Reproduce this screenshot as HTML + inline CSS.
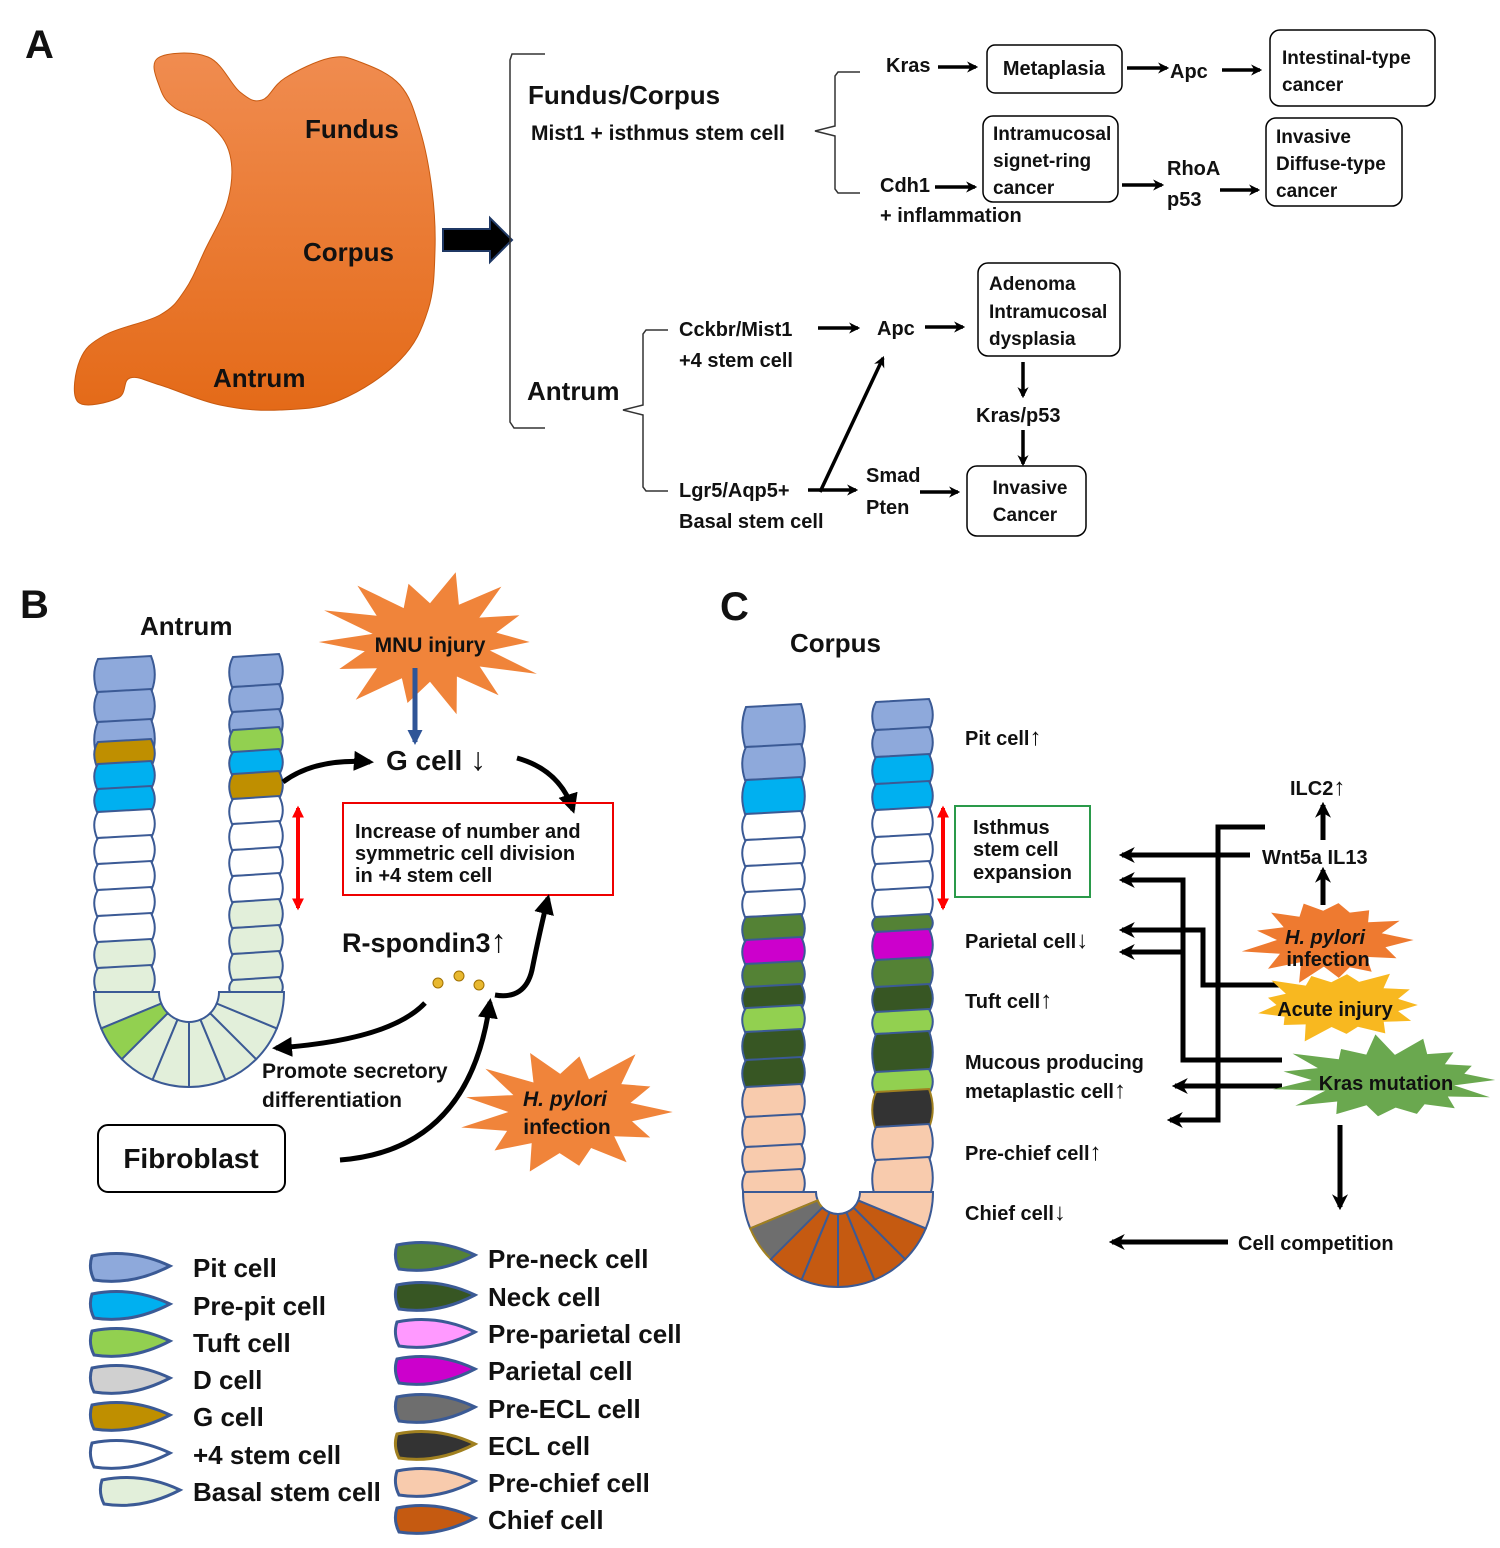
<!DOCTYPE html>
<html><head><meta charset="utf-8"><style>
body{margin:0;background:#fff}
svg{display:block}
text{font-family:"Liberation Sans",sans-serif;font-weight:bold;fill:#111}
</style></head><body>
<svg id="s" width="1500" height="1548" viewBox="0 0 1500 1548" xmlns="http://www.w3.org/2000/svg">
<defs>
<linearGradient id="og" x1="0" y1="0" x2="0" y2="1"><stop offset="0" stop-color="#F08C50"/><stop offset="1" stop-color="#E46A18"/></linearGradient>
<marker id="ah" viewBox="0 0 10 10" refX="8" refY="5" markerWidth="4" markerHeight="4" orient="auto-start-reverse"><path d="M0,0 L10,5 L0,10 z" fill="#000"/></marker>
<marker id="ahs" viewBox="0 0 10 10" refX="8" refY="5" markerWidth="3.2" markerHeight="3.2" orient="auto-start-reverse"><path d="M0,0 L10,5 L0,10 L3,5 z" fill="#000"/></marker>
<marker id="ahr" viewBox="0 0 10 10" refX="8" refY="5" markerWidth="3" markerHeight="3" orient="auto-start-reverse"><path d="M0,0 L10,5 L0,10 z" fill="#f00"/></marker>
<marker id="ahb" viewBox="0 0 10 10" refX="8" refY="5" markerWidth="3" markerHeight="3" orient="auto"><path d="M0,0 L10,5 L0,10 z" fill="#2F5597"/></marker>
</defs>

<!-- PANEL A -->
<text x="25" y="58" font-size="40">A</text>
<path id="stomach" d="" fill="url(#og)" stroke="#c85a10" stroke-width="1"/>
<text x="305" y="138" font-size="26">Fundus</text>
<text x="303" y="261" font-size="26">Corpus</text>
<text x="213" y="387" font-size="26">Antrum</text>
<path d="M443,229 L490,229 L490,218 L512,240 L490,262 L490,251 L443,251 Z" fill="#000" stroke="#1F3864" stroke-width="2"/>
<path d="M545,54 L512,54 L510,60 L510,422 L514,428 L545,428" fill="none" stroke="#333" stroke-width="1.5"/>
<text x="528" y="104" font-size="26" font-weight="normal">Fundus/Corpus</text>
<text x="531" y="140" font-size="21">Mist1 + isthmus stem cell</text>
<path d="M860,72 L838,72 L835,76 L835,126 L815,131 L835,136 L835,189 L838,193 L860,193" fill="none" stroke="#333" stroke-width="1.5"/>
<text x="886" y="72" font-size="20">Kras</text>
<line x1="938" y1="67" x2="976" y2="67" stroke="#000" stroke-width="3.5" marker-end="url(#ahs)"/>
<rect x="987" y="45" width="135" height="48" rx="8" fill="none" stroke="#000" stroke-width="1.5"/>
<text x="1054" y="75" font-size="20" font-weight="normal" text-anchor="middle">Metaplasia</text>
<line x1="1127" y1="68" x2="1167" y2="68" stroke="#000" stroke-width="3.5" marker-end="url(#ahs)"/>
<text x="1170" y="78" font-size="20">Apc</text>
<line x1="1222" y1="70" x2="1260" y2="70" stroke="#000" stroke-width="3.5" marker-end="url(#ahs)"/>
<rect x="1270" y="30" width="165" height="76" rx="10" fill="none" stroke="#000" stroke-width="1.5"/>
<text x="1282" y="64" font-size="19" font-weight="normal">Intestinal-type</text>
<text x="1282" y="91" font-size="19" font-weight="normal">cancer</text>
<text x="880" y="192" font-size="20">Cdh1</text>
<line x1="935" y1="187" x2="975" y2="187" stroke="#000" stroke-width="3.5" marker-end="url(#ahs)"/>
<text x="880" y="222" font-size="20">+ inflammation</text>
<rect x="983" y="116" width="135" height="86" rx="10" fill="none" stroke="#000" stroke-width="1.5"/>
<text x="993" y="140" font-size="19" font-weight="normal">Intramucosal</text>
<text x="993" y="167" font-size="19" font-weight="normal">signet-ring</text>
<text x="993" y="194" font-size="19" font-weight="normal">cancer</text>
<line x1="1122" y1="185" x2="1162" y2="185" stroke="#000" stroke-width="3.5" marker-end="url(#ahs)"/>
<text x="1167" y="175" font-size="20">RhoA</text>
<text x="1167" y="206" font-size="20">p53</text>
<line x1="1220" y1="190" x2="1258" y2="190" stroke="#000" stroke-width="3.5" marker-end="url(#ahs)"/>
<rect x="1266" y="118" width="136" height="88" rx="10" fill="none" stroke="#000" stroke-width="1.5"/>
<text x="1276" y="143" font-size="19" font-weight="normal">Invasive</text>
<text x="1276" y="170" font-size="19" font-weight="normal">Diffuse-type</text>
<text x="1276" y="197" font-size="19" font-weight="normal">cancer</text>

<text x="527" y="400" font-size="26" font-weight="normal">Antrum</text>
<path d="M668,330 L646,330 L643,334 L643,405 L623,410 L643,415 L643,487 L646,491 L668,491" fill="none" stroke="#333" stroke-width="1.5"/>
<text x="679" y="336" font-size="20">Cckbr/Mist1</text>
<text x="679" y="367" font-size="20">+4 stem cell</text>
<line x1="818" y1="328" x2="858" y2="328" stroke="#000" stroke-width="3.5" marker-end="url(#ahs)"/>
<text x="877" y="335" font-size="20">Apc</text>
<line x1="925" y1="327" x2="963" y2="327" stroke="#000" stroke-width="3.5" marker-end="url(#ahs)"/>
<rect x="978" y="263" width="142" height="93" rx="10" fill="none" stroke="#000" stroke-width="1.5"/>
<text x="989" y="290" font-size="19" font-weight="normal">Adenoma</text>
<text x="989" y="318" font-size="19" font-weight="normal">Intramucosal</text>
<text x="989" y="345" font-size="19" font-weight="normal">dysplasia</text>
<line x1="1023" y1="362" x2="1023" y2="396" stroke="#000" stroke-width="3.5" marker-end="url(#ahs)"/>
<text x="976" y="422" font-size="20">Kras/p53</text>
<line x1="1023" y1="430" x2="1023" y2="464" stroke="#000" stroke-width="3.5" marker-end="url(#ahs)"/>
<rect x="967" y="466" width="119" height="70" rx="10" fill="none" stroke="#000" stroke-width="1.5"/>
<text x="1030" y="494" font-size="19" font-weight="normal" text-anchor="middle">Invasive</text>
<text x="1025" y="521" font-size="19" font-weight="normal" text-anchor="middle">Cancer</text>
<text x="679" y="497" font-size="20">Lgr5/Aqp5+</text>
<text x="679" y="528" font-size="20">Basal stem cell</text>
<line x1="808" y1="490" x2="856" y2="490" stroke="#000" stroke-width="3.5" marker-end="url(#ahs)"/>
<line x1="820" y1="492" x2="883" y2="358" stroke="#000" stroke-width="3.5" marker-end="url(#ahs)"/>
<text x="866" y="482" font-size="20">Smad</text>
<text x="866" y="514" font-size="20">Pten</text>
<line x1="920" y1="492" x2="958" y2="492" stroke="#000" stroke-width="3.5" marker-end="url(#ahs)"/>

<!-- PANEL B -->
<text x="20" y="618" font-size="40">B</text>
<text x="140" y="635" font-size="26" font-weight="normal">Antrum</text>
<g id="glandB"></g>
<g id="starMNU"></g>
<text x="430" y="652" font-size="21" text-anchor="middle">MNU injury</text>
<line x1="415" y1="668" x2="415" y2="742" stroke="#2F5597" stroke-width="5" marker-end="url(#ahb)"/>
<text x="386" y="770" font-size="28" font-weight="normal">G cell <tspan font-size="32">↓</tspan></text>
<path d="M283,782 Q315,758 370,762" fill="none" stroke="#000" stroke-width="5" marker-end="url(#ah)"/>
<path d="M517,758 Q560,770 573,810" fill="none" stroke="#000" stroke-width="5" marker-end="url(#ah)"/>
<line x1="298" y1="808" x2="298" y2="908" stroke="#f00" stroke-width="4" marker-start="url(#ahr)" marker-end="url(#ahr)"/>
<rect x="343" y="803" width="270" height="92" fill="none" stroke="#e00" stroke-width="2"/>
<text x="355" y="838" font-size="20">Increase of number and</text>
<text x="355" y="860" font-size="20">symmetric cell division</text>
<text x="355" y="882" font-size="20">in +4 stem cell</text>
<text x="342" y="952" font-size="27" font-weight="normal">R-spondin3<tspan font-size="32">↑</tspan></text>
<g fill="#E8B830" stroke="#a07000" stroke-width="1"><circle cx="438" cy="983" r="5"/><circle cx="459" cy="976" r="5"/><circle cx="479" cy="985" r="5"/></g>
<path d="M495,995 Q525,1000 532,970 Q540,930 548,898" fill="none" stroke="#000" stroke-width="5" marker-end="url(#ah)"/>
<path d="M425,1003 Q390,1040 276,1048" fill="none" stroke="#000" stroke-width="5" marker-end="url(#ah)"/>
<text x="262" y="1078" font-size="21">Promote secretory</text>
<text x="262" y="1107" font-size="21">differentiation</text>
<rect x="98" y="1125" width="187" height="67" rx="10" fill="#fff" stroke="#000" stroke-width="2"/>
<text x="191" y="1168" font-size="28" font-weight="normal" text-anchor="middle">Fibroblast</text>
<path d="M340,1160 Q470,1150 490,1002" fill="none" stroke="#000" stroke-width="5" marker-end="url(#ah)"/>
<g id="starHP1"></g>
<text x="565" y="1106" font-size="21" font-style="italic" text-anchor="middle">H. pylori</text>
<text x="567" y="1134" font-size="21" text-anchor="middle">infection</text>

<g id="legend"></g>
<g font-size="26" font-weight="normal">
<text x="193" y="1277">Pit cell</text><text x="193" y="1315">Pre-pit cell</text><text x="193" y="1352">Tuft cell</text><text x="193" y="1389">D cell</text><text x="193" y="1426">G cell</text><text x="193" y="1464">+4 stem cell</text><text x="193" y="1501">Basal stem cell</text>
<text x="488" y="1268">Pre-neck cell</text><text x="488" y="1306">Neck cell</text><text x="488" y="1343">Pre-parietal cell</text><text x="488" y="1380">Parietal cell</text><text x="488" y="1418">Pre-ECL cell</text><text x="488" y="1455">ECL cell</text><text x="488" y="1492">Pre-chief cell</text><text x="488" y="1529">Chief cell</text>
</g>

<!-- PANEL C -->
<text x="720" y="620" font-size="40">C</text>
<text x="790" y="652" font-size="26" font-weight="normal">Corpus</text>
<g id="glandC"></g>
<g font-size="20">
<text x="965" y="745">Pit cell<tspan font-size="24">↑</tspan></text>
<text x="965" y="948">Parietal cell<tspan font-size="24">↓</tspan></text>
<text x="965" y="1008">Tuft cell<tspan font-size="24">↑</tspan></text>
<text x="965" y="1069">Mucous producing</text>
<text x="965" y="1098">metaplastic cell<tspan font-size="24">↑</tspan></text>
<text x="965" y="1160">Pre-chief cell<tspan font-size="24">↑</tspan></text>
<text x="965" y="1220">Chief cell<tspan font-size="24">↓</tspan></text>
<text x="1290" y="795">ILC2<tspan font-size="24">↑</tspan></text>
<text x="1262" y="864">Wnt5a IL13</text>
<text x="1238" y="1250">Cell competition</text>
</g>
<line x1="943" y1="808" x2="943" y2="908" stroke="#f00" stroke-width="4" marker-start="url(#ahr)" marker-end="url(#ahr)"/>
<rect x="955" y="806" width="135" height="91" fill="none" stroke="#2a9a4a" stroke-width="2"/>
<text x="973" y="834" font-size="20">Isthmus</text>
<text x="973" y="856" font-size="20">stem cell</text>
<text x="973" y="879" font-size="20">expansion</text>
<line x1="1323" y1="905" x2="1323" y2="870" stroke="#000" stroke-width="5" marker-end="url(#ahs)"/>
<line x1="1323" y1="840" x2="1323" y2="805" stroke="#000" stroke-width="5" marker-end="url(#ahs)"/>
<g fill="none" stroke="#000" stroke-width="5">
<polyline points="1265,827 1218,827 1218,1120 1170,1120" marker-end="url(#ahs)"/>
<polyline points="1250,855 1122,855" marker-end="url(#ahs)"/>
<polyline points="1282,985 1203,985 1203,930 1122,930" marker-end="url(#ahs)"/>
<polyline points="1282,1060 1183,1060 1183,880 1122,880" marker-end="url(#ahs)"/>
<polyline points="1183,952 1122,952" marker-end="url(#ahs)"/>
<polyline points="1282,1086 1175,1086" marker-end="url(#ahs)"/>
<polyline points="1340,1125 1340,1207" marker-end="url(#ahs)"/>
<polyline points="1228,1242 1112,1242" marker-end="url(#ahs)"/>
</g>
<g id="starHP2"></g>
<text x="1325" y="944" font-size="20" font-style="italic" text-anchor="middle">H. pylori</text>
<text x="1328" y="966" font-size="20" text-anchor="middle">infection</text>
<g id="starAI"></g>
<text x="1335" y="1016" font-size="20" text-anchor="middle">Acute injury</text>
<g id="starKM"></g>
<text x="1386" y="1090" font-size="20" text-anchor="middle">Kras mutation</text>
</svg>
<script>
var NS="http://www.w3.org/2000/svg";
function el(tag,attrs,parent){var e=document.createElementNS(NS,tag);for(var k in attrs)e.setAttribute(k,attrs[k]);(parent||document.getElementById('s')).appendChild(e);return e;}
// smooth stomach
(function(){var P=[[158,58],[208,57],[240,92],[262,100],[285,78],[330,58],[360,62],[400,85],[420,130],[432,190],[435,250],[428,310],[400,360],[340,400],[280,410],[220,405],[160,385],[130,378],[118,398],[78,402],[80,360],[105,335],[160,315],[185,290],[205,250],[228,200],[230,155],[210,125],[175,108],[160,88]];
var n=P.length,d="M"+P[0][0]+","+P[0][1];
for(var i=0;i<n;i++){var p0=P[(i-1+n)%n],p1=P[i],p2=P[(i+1)%n],p3=P[(i+2)%n];var t=0.18;
d+=" C"+(p1[0]+(p2[0]-p0[0])*t).toFixed(1)+","+(p1[1]+(p2[1]-p0[1])*t).toFixed(1)+" "+(p2[0]-(p3[0]-p1[0])*t).toFixed(1)+","+(p2[1]-(p3[1]-p1[1])*t).toFixed(1)+" "+p2[0]+","+p2[1];}
document.getElementById('stomach').setAttribute('d',d+"Z");})();
var C={pit:"#8EA9DB",pp:"#00B0F0",tuft:"#92D050",D:"#D0D0D0",G:"#BF8F00",st:"#FFFFFF",bs:"#E2EFDA",pn:"#548235",nk:"#375623",ppar:"#FF99FF",par:"#CC00CC",pecl:"#6E6E6E",ecl:"#333333",pc:"#F8CBAD",ch:"#C55A11"};
var SK="#3B5A95";
function col(g,x,w,list){list.forEach(function(c){var y0=c[1],y1=c[2];var stroke=(c[0]=="ecl"||c[0]=="pecl")?"#A08020":SK;
var d="M"+(x+3)+","+(y0+2)+" L"+(x+w-4)+","+(y0-1)+" Q"+(x+w+3)+","+((y0+y1)/2)+" "+(x+w-3)+","+(y1)+" L"+(x+2)+","+(y1+2)+" Q"+(x-4)+","+((y0+y1)/2)+" "+(x+3)+","+(y0+2)+"Z";
el('path',{d:d,fill:C[c[0]],stroke:stroke,"stroke-width":2},g);});}
function arc(g,cx,cy,R,r,cols){var n=cols.length;for(var i=0;i<n;i++){
function P(rad,a){return (cx+rad*Math.cos(a)).toFixed(1)+","+(cy+rad*Math.sin(a)).toFixed(1);}
var b0=Math.PI-i*Math.PI/n,b1=Math.PI-(i+1)*Math.PI/n;
var d="M"+P(r,b0)+" L"+P(R,b0)+" A"+R+","+R+" 0 0 0 "+P(R,b1)+" L"+P(r,b1)+" A"+r+","+r+" 0 0 1 "+P(r,b0)+"Z";
var stroke=(cols[i]=="pecl")?"#A08020":SK;
el('path',{d:d,fill:C[cols[i]],stroke:stroke,"stroke-width":2},g);}}
var gB=document.getElementById('glandB');
col(gB,95,60,[["pit",657,690],["pit",690,720],["pit",720,755],["G",740,765],["pp",762,787],["pp",787,810],["st",810,836],["st",836,862],["st",862,888],["st",888,914],["st",914,940],["bs",940,966],["bs",966,992]]);
col(gB,230,53,[["pit",655,685],["pit",685,710],["pit",710,735],["tuft",728,752],["pp",750,773],["G",772,797],["st",797,822],["st",822,848],["st",848,874],["st",874,900],["bs",900,926],["bs",926,952],["bs",952,978],["bs",978,995]]);
arc(gB,189,992,95,30,["bs","tuft","bs","bs","bs","bs","bs","bs"]);
var gC=document.getElementById('glandC');
col(gC,743,62,[["pit",705,745],["pit",745,778],["pp",778,812],["st",812,838],["st",838,864],["st",864,890],["st",890,915],["pn",915,940],["par",938,962],["pn",962,985],["nk",985,1008],["tuft",1006,1030],["nk",1030,1058],["nk",1058,1085],["pc",1085,1115],["pc",1115,1145],["pc",1145,1170],["pc",1170,1195]]);
col(gC,873,60,[["pit",700,728],["pit",728,755],["pp",755,782],["pp",782,808],["st",808,835],["st",835,862],["st",862,888],["st",888,915],["pn",915,930],["par",930,958],["pn",958,985],["nk",985,1010],["tuft",1010,1032],["nk",1032,1070],["tuft",1070,1092],["ecl",1090,1125],["pc",1125,1158],["pc",1158,1195]]);
arc(gC,838,1192,95,22,["pc","pecl","ch","ch","ch","ch","ch","pc"]);
var lg=document.getElementById('legend');
function pill(x,cy,c){var stroke=(c=="ecl")?"#A08020":SK;var d="M"+x+","+(cy-12)+" Q"+(x+40)+","+(cy-20)+" "+(x+78)+","+(cy-2)+" Q"+(x+40)+","+(cy+18)+" "+(x+2)+","+(cy+12)+" Q"+(x-4)+","+cy+" "+x+","+(cy-12)+"Z";el('path',{d:d,fill:C[c],stroke:stroke,"stroke-width":3},lg);}
[["pit",1268],["pp",1306],["tuft",1343],["D",1380],["G",1417],["st",1455],["bs",1492]].forEach(function(a,i){pill(i==6?102:92,a[1],a[0]);});
[["pn",1257],["nk",1297],["ppar",1334],["par",1371],["pecl",1409],["ecl",1446],["pc",1483],["ch",1520]].forEach(function(a){pill(397,a[1],a[0]);});
function star(id,cx,cy,rx,ry,n,inner,fill,seed){var g=document.getElementById(id);var pts=[];var s=seed;function rnd(){s=(s*9301+49297)%233280;return s/233280;}
for(var i=0;i<2*n;i++){var a=Math.PI*i/n;var k=(i%2==0)?(0.85+0.3*rnd()):inner*(0.9+0.2*rnd());pts.push((cx+rx*k*Math.cos(a)).toFixed(1)+","+(cy+ry*k*Math.sin(a)).toFixed(1));}
el('polygon',{points:pts.join(" "),fill:fill,stroke:"none"},g);}
star('starMNU',430,642,105,65,14,0.62,"#F0843A",3);
star('starHP1',568,1112,105,62,13,0.62,"#F0843A",7);
star('starHP2',1330,940,80,42,13,0.66,"#EE7A30",11);
star('starAI',1338,1005,82,34,13,0.7,"#F8B820",5);
star('starKM',1388,1080,105,40,15,0.68,"#6AA84F",9);
</script>
</body></html>
